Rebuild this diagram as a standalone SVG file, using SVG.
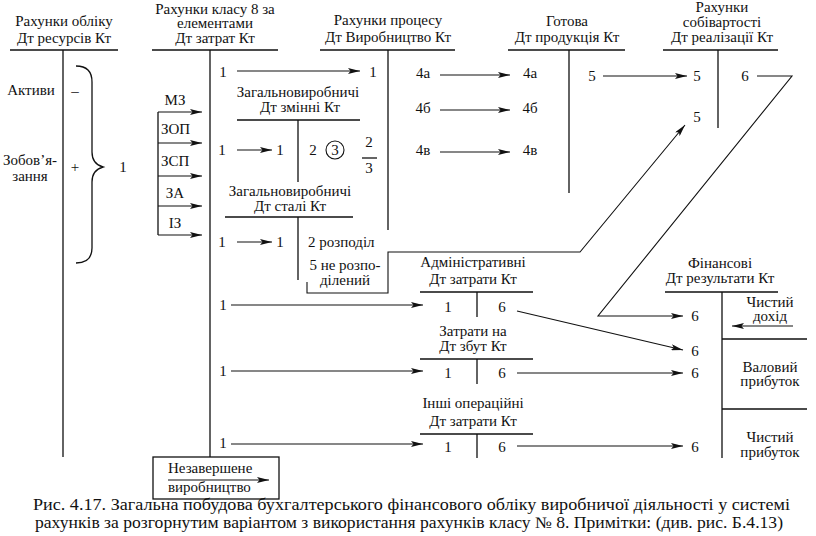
<svg xmlns="http://www.w3.org/2000/svg" width="816" height="536" viewBox="0 0 816 536" font-family="'Liberation Serif', 'DejaVu Serif', serif" font-size="15">
<style>
text{font-family:'Liberation Serif','DejaVu Serif',serif;font-size:15px;fill:#111}
.m{text-anchor:middle}
.l{stroke:#111;stroke-width:1.3;fill:none}
.a{stroke:#111;stroke-width:1.1;fill:none;marker-end:url(#ah)}
.cap{font-size:16px}
</style>
<defs>
<marker id="ah" viewBox="0 0 12 6" refX="12" refY="3" markerWidth="12" markerHeight="6" markerUnits="userSpaceOnUse" orient="auto"><path d="M0,0 L12,3 L0,6 L2.5,3 z" fill="#111"/></marker>
</defs>
<rect width="816" height="536" fill="#fff"/>

<g id="resources">
<text class="m" x="64" y="26">Рахунки обліку</text>
<text class="m" x="64" y="43">Дт ресурсів Кт</text>
<path class="l" d="M10,50 H118 M63,50 V457"/>
<text class="m" x="31" y="95">Активи</text>
<text class="m" x="75" y="96">–</text>
<text class="m" x="30" y="165">Зобов’я-</text>
<text class="m" x="30" y="181">зання</text>
<text class="m" x="75" y="172">+</text>
<path class="l" stroke-width="1.1" d="M76,66 Q92,66 92,82 L92,152 Q92,164 103,167 Q92,170 92,182 L92,248 Q92,263 76,263"/>
<text class="m" x="123" y="172">1</text>
</g>

<g id="class8">
<text class="m" x="215" y="14">Рахунки класу 8 за</text>
<text class="m" x="215" y="28">елементами</text>
<text class="m" x="215" y="43">Дт затрат Кт</text>
<path class="l" d="M152,50 H278 M210,50 V457"/>
<text class="m" x="175" y="105">МЗ</text>
<text x="161" y="134">ЗОП</text>
<text x="161" y="166">ЗСП</text>
<text class="m" x="175" y="198">ЗА</text>
<text class="m" x="175" y="228">ІЗ</text>
<text class="m" x="223" y="77">1</text>
<text class="m" x="373" y="77">1</text>
<text class="m" x="222" y="155">1</text>
<text class="m" x="280" y="155">1</text>
<text class="m" x="222" y="247">1</text>
<text class="m" x="280" y="247">1</text>
<text class="m" x="223" y="310">1</text>
<text class="m" x="223" y="376">1</text>
<text class="m" x="223" y="448">1</text>
</g>

<g id="overhead-variable">
<text class="m" x="298" y="97">Загальновиробничі</text>
<text class="m" x="300" y="112">Дт змінні Кт</text>
<path class="l" d="M237,120 H360 M298,120 V182"/>
<text class="m" x="313" y="155">2</text>
<circle cx="335" cy="150" r="9" fill="none" stroke="#111" stroke-width="1.1"/>
<text class="m" x="335" y="155">3</text>
<text class="m" x="369" y="147">2</text>
<path class="l" stroke-width="1" d="M362,158 H377"/>
<text class="m" x="369" y="173">3</text>
</g>

<g id="overhead-fixed">
<text class="m" x="290" y="196">Загальновиробничі</text>
<text class="m" x="290" y="211">Дт сталі Кт</text>
<path class="l" d="M225,217 H353 M298,217 V280"/>
<text x="308" y="247">2 розподіл</text>
<text class="m" x="345" y="270">5 не розпо-</text>
<text class="m" x="345" y="285">ділений</text>
</g>

<g id="production">
<text class="m" x="388" y="25">Рахунки процесу</text>
<text class="m" x="388" y="42">Дт Виробництво Кт</text>
<path class="l" d="M320,50 H455 M388,50 V230"/>
<text class="m" x="423" y="78">4а</text>
<text class="m" x="423" y="113">4б</text>
<text class="m" x="423" y="155">4в</text>
</g>

<g id="finished-goods">
<text class="m" x="567" y="26">Готова</text>
<text class="m" x="567" y="42">Дт продукція Кт</text>
<path class="l" d="M508,50 H625 M569,50 V193"/>
<text class="m" x="530" y="78">4а</text>
<text class="m" x="530" y="113">4б</text>
<text class="m" x="530" y="155">4в</text>
<text class="m" x="592" y="81">5</text>
</g>

<g id="cost-of-sales">
<text class="m" x="722" y="12">Рахунки</text>
<text class="m" x="722" y="27">собівартості</text>
<text class="m" x="722" y="42">Дт реалізації Кт</text>
<path class="l" d="M663,50 H778 M718,50 V128"/>
<text class="m" x="697" y="81">5</text>
<text class="m" x="697" y="122">5</text>
<text class="m" x="745" y="81">6</text>
</g>

<g id="admin">
<text class="m" x="473" y="267">Адміністративні</text>
<text class="m" x="473" y="284">Дт затрати Кт</text>
<path class="l" d="M420,292 H533 M477,292 V317"/>
<text class="m" x="448" y="312">1</text>
<text class="m" x="502" y="312">6</text>
</g>

<g id="selling">
<text class="m" x="473" y="336">Затрати на</text>
<text class="m" x="473" y="351">Дт збут Кт</text>
<path class="l" d="M420,359 H533 M477,359 V384"/>
<text class="m" x="448" y="378">1</text>
<text class="m" x="502" y="378">6</text>
</g>

<g id="other-operating">
<text class="m" x="473" y="408">Інші операційні</text>
<text class="m" x="473" y="426">Дт затрати Кт</text>
<path class="l" d="M420,434 H533 M477,434 V458"/>
<text class="m" x="448" y="452">1</text>
<text class="m" x="502" y="452">6</text>
</g>

<g id="financial-results">
<text class="m" x="720" y="268">Фінансові</text>
<text class="m" x="720" y="283">Дт результати Кт</text>
<path class="l" d="M665,292 H778 M722,292 V458 M722,339 H807 M722,409 H807"/>
<text class="m" x="695" y="321">6</text>
<text class="m" x="695" y="356">6</text>
<text class="m" x="695" y="378">6</text>
<text class="m" x="695" y="452">6</text>
<text class="m" x="770" y="307">Чистий</text>
<text class="m" x="770" y="321">дохід</text>
<text class="m" x="770" y="372">Валовий</text>
<text class="m" x="770" y="386">прибуток</text>
<text class="m" x="770" y="442">Чистий</text>
<text class="m" x="770" y="457">прибуток</text>
</g>

<g id="wip">
<rect x="153" y="457" width="126" height="42" fill="none" stroke="#111" stroke-width="1.3"/>
<text x="168" y="473">Незавершене</text>
<text x="168" y="492">виробництво</text>
</g>

<g id="connectors">
<path class="l" d="M158,112 V235"/>
<path class="a" d="M158,112 H202"/>
<path class="a" d="M158,143 H202"/>
<path class="a" d="M158,176 H202"/>
<path class="a" d="M158,206 H202"/>
<path class="a" d="M158,235 H202"/>
<path class="a" d="M237,71 H360"/>
<path class="a" d="M237,150 H272"/>
<path class="a" d="M237,242 H272"/>
<path class="a" d="M440,75 H510"/>
<path class="a" d="M440,110 H510"/>
<path class="a" d="M440,152 H510"/>
<path class="a" d="M603,76 H687"/>
<path class="a" stroke-width="1.2" d="M307,282 V293 H388 V252 H580 L685,125"/>
<path class="a" d="M757,76 H792 L598,316 H683"/>
<path class="a" d="M231,305 H423"/>
<path class="a" d="M231,371 H423"/>
<path class="a" d="M231,444 H423"/>
<path class="a" d="M517,311 L683,350"/>
<path class="a" d="M517,373 H683"/>
<path class="a" d="M517,446 H683"/>
<path class="a" d="M793,326 H732"/>
<path class="a" d="M168,480 H269"/>
</g>

<g id="caption">
<text class="cap" x="33" y="510" textLength="757" lengthAdjust="spacingAndGlyphs">Рис. 4.17. Загальна побудова бухгалтерського фінансового обліку виробничої діяльності у системі</text>
<text class="cap" x="35" y="528" textLength="748" lengthAdjust="spacingAndGlyphs">рахунків за розгорнутим варіантом з використання рахунків класу № 8. Примітки: (див. рис. Б.4.13)</text>
</g>
</svg>
